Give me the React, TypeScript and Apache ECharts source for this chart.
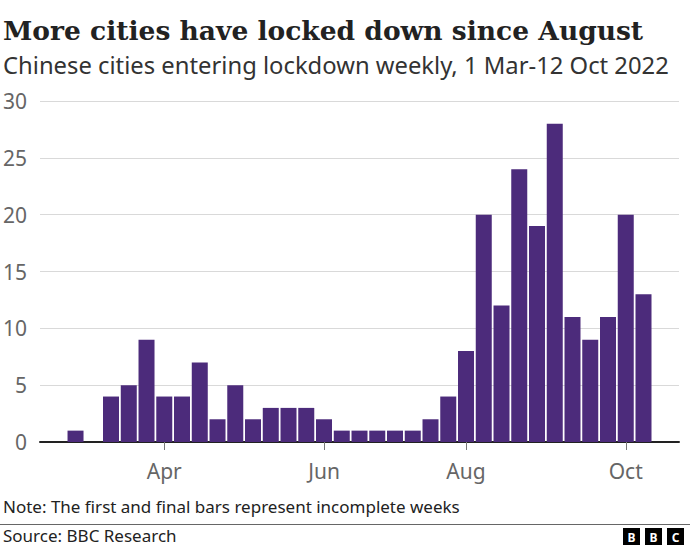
import React, { useEffect, useRef } from "react";
import * as echarts from "echarts";

const weeks = [
  "28 Feb", "7 Mar", "14 Mar", "21 Mar", "28 Mar", "4 Apr", "11 Apr", "18 Apr", "25 Apr",
  "2 May", "9 May", "16 May", "23 May", "30 May", "6 Jun", "13 Jun", "20 Jun", "27 Jun",
  "4 Jul", "11 Jul", "18 Jul", "25 Jul", "1 Aug", "8 Aug", "15 Aug", "22 Aug", "29 Aug",
  "5 Sep", "12 Sep", "19 Sep", "26 Sep", "3 Oct", "10 Oct",
];
const cities = [
  1, 0, 4, 5, 9, 4, 4, 7, 2, 5, 2, 3, 3, 3, 2, 1, 1, 1, 1, 1, 2, 4, 8, 20, 12, 24, 19, 28, 11, 9, 11, 20, 13,
];
const tickWeeks = ["4 Apr", "6 Jun", "1 Aug", "3 Oct"];
const tickLabels = ["Apr", "Jun", "Aug", "Oct"];
const yTicks = [0, 5, 10, 15, 20, 25, 30];

const title = "More cities have locked down since August";
const subtitle = "Chinese cities entering lockdown weekly, 1 Mar-12 Oct 2022";
const note = "Note: The first and final bars represent incomplete weeks";
const source = "Source: BBC Research";

export default function App() {
  const ref = useRef<HTMLDivElement>(null);
  useEffect(() => {
    document.body.style.margin = "0";
    if (!ref.current) return;
    const chart = echarts.init(ref.current, null, { renderer: "svg" });
    const pad = ["", ""];
    const cats = [...pad.map((p, i) => "pre" + i), ...weeks, ...pad.map((p, i) => "post" + i)];
    const vals: (number | null)[] = [null, null, ...cities, null, null];
    const isTick = (i: number, v: string) => tickWeeks.indexOf(v) >= 0;
    const sans = '"Noto Sans", sans-serif';
    chart.setOption({
      animation: false,
      grid: { left: 40, right: 11, top: 101, bottom: 108 },
      xAxis: {
        type: "category",
        data: cats,
        boundaryGap: false,
        axisLine: { lineStyle: { color: "#222", width: 2 } },
        axisTick: {
          show: true,
          interval: isTick,
          length: 8,
          lineStyle: { color: "#777", width: 1 },
        },
        axisLabel: {
          interval: isTick,
          formatter: (v: string) => {
            const k = tickWeeks.indexOf(v);
            return k >= 0 ? tickLabels[k] : "";
          },
          color: "#666",
          fontSize: 21,
          fontFamily: sans,
          margin: 18,
        },
        splitLine: { show: false },
      },
      yAxis: {
        type: "value",
        min: yTicks[0],
        max: yTicks[yTicks.length - 1],
        interval: 5,
        axisLine: { show: false },
        axisTick: { show: false },
        axisLabel: { color: "#666", fontSize: 21, fontFamily: sans, margin: 13 },
        splitLine: { lineStyle: { color: "#d9d9d9", width: 1 } },
      },
      series: [
        {
          type: "bar",
          data: vals,
          barWidth: 16,
          itemStyle: { color: "#4c2b7b" },
          z: 1,
        },
      ],
      graphic: [
        {
          type: "text",
          left: 3,
          top: 17,
          style: {
            text: title,
            font: 'bold 26.5px "DejaVu Serif", serif',
            fill: "#222",
          },
        },
        {
          type: "text",
          left: 3,
          top: 53,
          style: {
            text: subtitle,
            font: '23.8px "Noto Sans", sans-serif',
            fill: "#333",
          },
        },
        {
          type: "text",
          left: 3,
          top: 498,
          style: {
            text: note,
            font: '17px "Noto Sans", sans-serif',
            fill: "#222",
          },
        },
        {
          type: "line",
          shape: { x1: 0, y1: 524.5, x2: 690, y2: 524.5 },
          style: { stroke: "#666", lineWidth: 1 },
        },
        {
          type: "text",
          left: 3,
          top: 527,
          style: {
            text: source,
            font: '17px "Noto Sans", sans-serif',
            fill: "#222",
          },
        },
        ...[0, 1, 2].map((i) => ({
          type: "rect",
          shape: { x: 623 + i * 22, y: 528, width: 17, height: 17 },
          style: { fill: "#000" },
        })),
        ...["B", "B", "C"].map((ch, i) => ({
          type: "text",
          x: 631.5 + i * 22,
          y: 537,
          style: {
            text: ch,
            font: 'bold 12px "Noto Sans", sans-serif',
            fill: "#fff",
            align: "center",
            verticalAlign: "middle",
          },
        })),
      ],
    });
    return () => chart.dispose();
  }, []);
  return <div ref={ref} style={{ width: 690, height: 550 }} />;
}
